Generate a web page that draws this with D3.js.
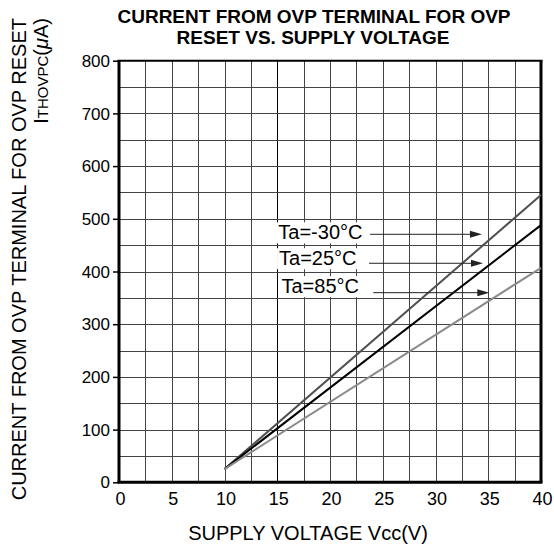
<!DOCTYPE html>
<html><head><meta charset="utf-8">
<script src="https://cdn.jsdelivr.net/npm/d3@7"></script>
<style>body{margin:0;background:#fff}svg{display:block}text{font-family:"Liberation Sans",Arial,sans-serif;fill:#000}</style>
</head><body>
<script>
// ---- data ----
const voltage = [10, 40];
const seriesNames = ["Ta=-30°C", "Ta=25°C", "Ta=85°C"];
const currentM30 = [25, 545];
const current25 = [25, 488];
const current85 = [25, 407];
const seriesColors = ["#505050", "#000000", "#8a8a8a"];
const xTicks = [0, 5, 10, 15, 20, 25, 30, 35, 40];
const yTicks = [0, 100, 200, 300, 400, 500, 600, 700, 800];
// annotation anchors in data units [V, uA]
const labelPos = [[15.1, 461], [15.17, 412], [15.4, 359]];
const arrowFrom = [[23.8, 470.6], [23.7, 415.6], [24.1, 359.8]];
const arrowTo = [[34.4, 470.6], [34.5, 415.6], [35.1, 359.8]];

const W = 554, H = 550;
const svg = d3.select("body").append("svg").attr("width", W).attr("height", H);
const x = d3.scaleLinear().domain([0, 40]).range([119, 541]);
const y = d3.scaleLinear().domain([0, 800]).range([482.3, 60.7]);

// grid
const g = svg.append("g");
const vg = d3.range(2.5, 40, 2.5), hg = d3.range(50, 800, 50);
g.selectAll(".vg").data(vg).join("line")
  .attr("x1", d => Math.round(x(d)) + 0.5).attr("x2", d => Math.round(x(d)) + 0.5)
  .attr("y1", y(800)).attr("y2", y(0)).attr("stroke", d => d === 15 ? "#000" : "#444").attr("stroke-width", 1);
g.selectAll(".hg").data(hg).join("line")
  .attr("y1", d => Math.round(y(d)) + 0.5).attr("y2", d => Math.round(y(d)) + 0.5)
  .attr("x1", x(0)).attr("x2", x(40)).attr("stroke", "#444").attr("stroke-width", 1);

// axes
const yAxis = d3.axisLeft(y).tickValues(yTicks).tickSize(6).tickPadding(3).tickFormat(d3.format("d"));
const ya = svg.append("g").attr("transform", `translate(${x(0)},0)`).call(yAxis);
ya.select(".domain").remove();
ya.selectAll("line").attr("stroke", "#000").attr("stroke-width", 1.5);
ya.selectAll("text").attr("font-size", 17).attr("font-family", "Liberation Sans, Arial, sans-serif").attr("dy", "0.33em");

const xAxis = d3.axisBottom(x).tickValues(xTicks).tickSize(0).tickPadding(10).tickFormat(d3.format("d"));
const xa = svg.append("g").attr("transform", `translate(1,${y(0)})`).call(xAxis);
xa.select(".domain").remove();
xa.selectAll("text").attr("font-size", 18).attr("font-family", "Liberation Sans, Arial, sans-serif").attr("dy", "0.72em");

// frame
const fr = svg.append("g").attr("stroke", "#000").attr("fill", "none");
fr.append("line").attr("x1", x(0) - 1.5).attr("x2", x(40) + 1.5).attr("y1", y(800)).attr("y2", y(800)).attr("stroke-width", 2);
fr.append("line").attr("x1", x(0) - 1.5).attr("x2", x(40) + 1.5).attr("y1", y(0)).attr("y2", y(0)).attr("stroke-width", 3);
fr.append("line").attr("x1", x(0)).attr("x2", x(0)).attr("y1", y(800)).attr("y2", y(0)).attr("stroke-width", 3);
fr.append("line").attr("x1", x(40)).attr("x2", x(40)).attr("y1", y(800)).attr("y2", y(0)).attr("stroke-width", 3);

// series
const line = d3.line().x(d => x(d[0])).y(d => y(d[1]));
[currentM30, current25, current85].forEach((vals, i) => {
  svg.append("path").datum(voltage.map((v, j) => [v, vals[j]]))
    .attr("d", line).attr("fill", "none").attr("stroke", seriesColors[i]).attr("stroke-width", 2);
});

// annotations
seriesNames.forEach((name, i) => {
  const t = svg.append("text").attr("x", x(labelPos[i][0])).attr("y", y(labelPos[i][1]))
    .attr("font-size", 20).text(name);
  const bb = t.node().getBBox();
  svg.insert("rect", () => t.node()).attr("x", bb.x - 2).attr("y", bb.y + 1).attr("width", bb.width + 4).attr("height", bb.height - 1).attr("fill", "#fff");
  const x1 = x(arrowFrom[i][0]), x2 = x(arrowTo[i][0]), yy = y(arrowFrom[i][1]);
  svg.append("line").attr("x1", x1).attr("x2", x2 - 10).attr("y1", yy).attr("y2", yy).attr("stroke", "#222").attr("stroke-width", 1);
  svg.append("path").attr("d", `M${x2},${yy}L${x2 - 12},${yy - 3.5}L${x2 - 12},${yy + 3.5}Z`).attr("fill", "#222");
});

// titles
const title = svg.append("text").attr("text-anchor", "middle").attr("font-weight", "bold").attr("font-size", 19);
title.append("tspan").attr("x", 314).attr("y", 23).text("CURRENT FROM OVP TERMINAL FOR OVP");
title.append("tspan").attr("x", 313).attr("y", 44).text("RESET VS. SUPPLY VOLTAGE");

svg.append("text").attr("x", 308).attr("y", 540).attr("text-anchor", "middle").attr("font-size", 20).text("SUPPLY VOLTAGE Vcc(V)");

svg.append("text").attr("transform", "translate(26,18) rotate(-90)").attr("text-anchor", "end").attr("font-size", 20)
  .text("CURRENT FROM OVP TERMINAL FOR OVP RESET");
const yl2 = svg.append("text").attr("transform", "translate(47.5,18) rotate(-90)").attr("text-anchor", "end").attr("font-size", 20);
yl2.append("tspan").text("I");
yl2.append("tspan").attr("font-size", 15).text("THOVPC");
yl2.append("tspan").text("(");
yl2.append("tspan").attr("font-style", "italic").text("μ");
yl2.append("tspan").text("A)");
</script>
</body></html>
